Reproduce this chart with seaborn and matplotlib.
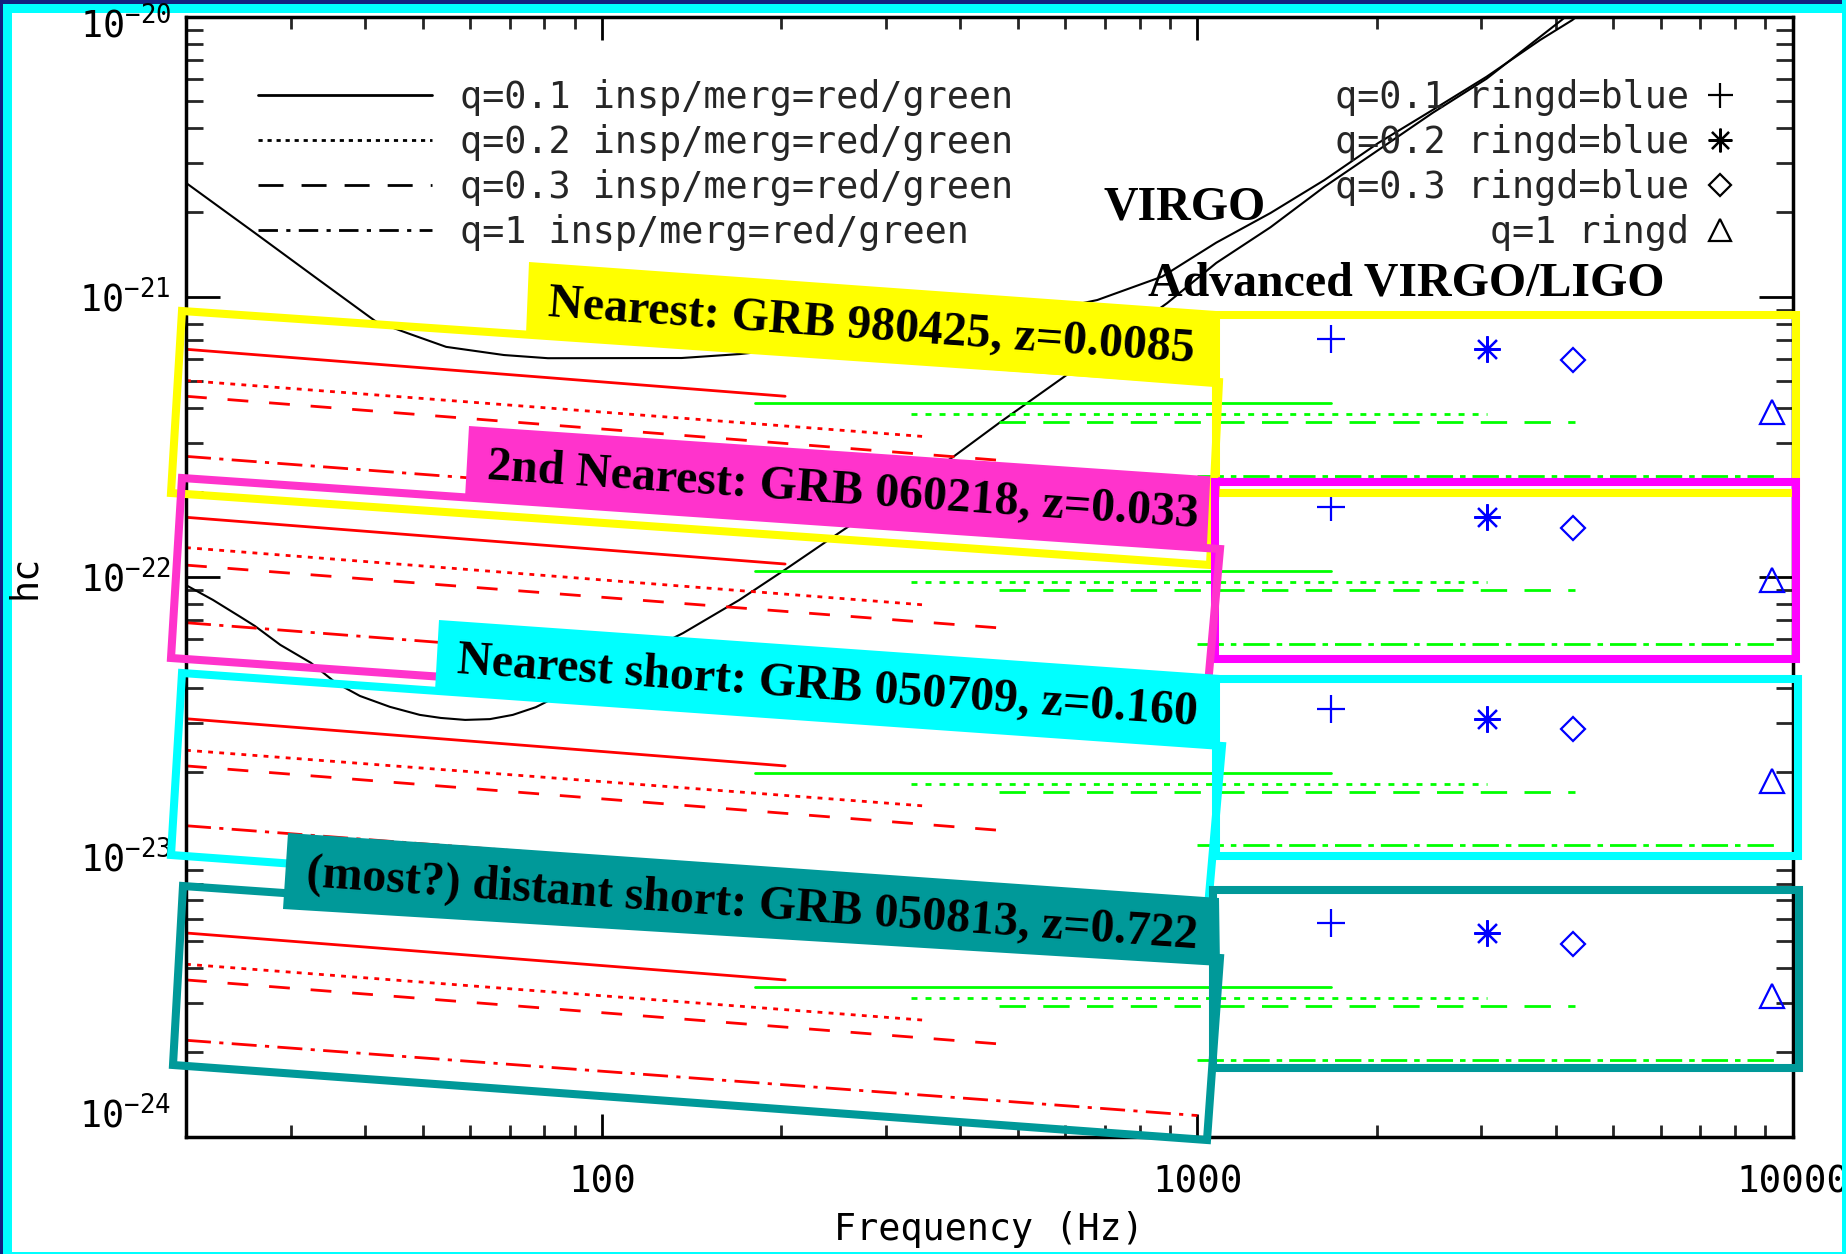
import math
import numpy as np
import matplotlib
matplotlib.use("Agg")
import matplotlib.pyplot as plt
import seaborn as sns
from matplotlib.transforms import Affine2D, blended_transform_factory, offset_copy
from matplotlib.patches import Polygon, Rectangle
from matplotlib.lines import Line2D
from matplotlib.font_manager import FontProperties
from matplotlib.ticker import LogLocator, FuncFormatter, NullFormatter

# ---------------- data ----------------
# detector sensitivity curves (black)
virgo_freq = [20, 26.1, 33.4, 41.7, 47.2, 54.7, 68.4, 81.1, 136, 170.5, 300, 450, 679,
              873, 1076, 1327, 1635, 2014, 2483, 3060, 3767, 4266, 4700]
virgo_hc = [2.55e-21, 1.69e-21, 1.15e-21, 8.15e-22, 7.40e-22, 6.62e-22, 6.19e-22, 6.03e-22,
            6.04e-22, 6.24e-22, 7.1e-22, 8.1e-22, 9.73e-22, 1.18e-21, 1.56e-21, 1.99e-21,
            2.61e-21, 3.54e-21, 4.64e-21, 6.1e-21, 8.26e-21, 9.73e-21, 1.15e-20]
adv_freq = [20, 22.2, 24.7, 26.1, 28.8, 32.4, 35.7, 39.2, 44.0, 49.4, 53.6, 58.9, 64.8,
            70.8, 77.4, 101.6, 136.8, 169.9, 203, 252, 389, 467, 593, 890, 1076, 1327,
            1635, 2014, 2483, 3060, 4092, 4500]
adv_hc = [9.33e-23, 8.26e-23, 7.18e-23, 6.67e-23, 5.71e-23, 4.93e-23, 4.18e-23, 3.75e-23,
          3.43e-23, 3.21e-23, 3.13e-23, 3.08e-23, 3.10e-23, 3.21e-23, 3.42e-23, 4.58e-23,
          6.29e-23, 8.25e-23, 1.06e-22, 1.45e-22, 2.68e-22, 3.57e-22, 5.12e-22, 9.49e-22,
          1.32e-21, 1.77e-21, 2.47e-21, 3.34e-21, 4.53e-21, 6.0e-21, 9.73e-21, 1.15e-20]

mass_ratios = ["q=0.1", "q=0.2", "q=0.3", "q=1"]
grb_labels = ["Nearest: GRB 980425, z=0.0085",
              "2nd Nearest: GRB 060218, z=0.033",
              "Nearest short: GRB 050709, z=0.160",
              "(most?) distant short: GRB 050813, z=0.722"]

# inspiral (red): straight segments from insp_f_start to insp_f_end, one per q
insp_f_start = [20, 20, 20, 20]
insp_f_end = [203, 345, 470, 1000]
insp_start_z0085 = [6.49e-22, 5.02e-22, 4.41e-22, 2.69e-22]
insp_end_z0085 = [4.41e-22, 3.17e-22, 2.60e-22, 1.43e-22]
insp_start_z033 = [1.63e-22, 1.27e-22, 1.10e-22, 6.85e-23]
insp_end_z033 = [1.11e-22, 7.94e-23, 6.55e-23, 3.59e-23]
insp_start_z160 = [3.11e-23, 2.40e-23, 2.11e-23, 1.29e-23]
insp_end_z160 = [2.11e-23, 1.52e-23, 1.24e-23, 6.84e-24]
insp_start_z722 = [5.34e-24, 4.13e-24, 3.63e-24, 2.21e-24]
insp_end_z722 = [3.63e-24, 2.61e-24, 2.14e-24, 1.19e-24]

# merger (green): flat segments
merg_f_start = [181, 330, 464, 1000]
merg_f_end = [1677, 3069, 4303, 9312]
merg_z0085 = [4.16e-22, 3.81e-22, 3.56e-22, 2.29e-22]
merg_z033 = [1.045e-22, 9.57e-23, 8.94e-23, 5.75e-23]
merg_z160 = [1.99e-23, 1.82e-23, 1.70e-23, 1.10e-23]
merg_z722 = [3.42e-24, 3.13e-24, 2.93e-24, 1.88e-24]

# ringdown (blue markers)
ring_freq = [1677, 3069, 4280, 9227]
ring_z0085 = [7.05e-22, 6.48e-22, 5.95e-22, 3.88e-22]
ring_z033 = [1.77e-22, 1.63e-22, 1.49e-22, 9.75e-23]
ring_z160 = [3.37e-23, 3.10e-23, 2.85e-23, 1.86e-23]
ring_z722 = [5.80e-24, 5.33e-24, 4.89e-24, 3.19e-24]

insp_start = [insp_start_z0085, insp_start_z033, insp_start_z160, insp_start_z722]
insp_end = [insp_end_z0085, insp_end_z033, insp_end_z160, insp_end_z722]
merg_hc = [merg_z0085, merg_z033, merg_z160, merg_z722]
ring_hc = [ring_z0085, ring_z033, ring_z160, ring_z722]

y_tick_exponents = [-24, -23, -22, -21, -20]

# ---------------- style ----------------
sns.set_theme(style="white")
plt.rcParams["font.family"] = ["DejaVu Sans Mono", "DejaVu Sans"]
plt.rcParams["mathtext.fontset"] = "custom"
plt.rcParams["mathtext.rm"] = "DejaVu Sans Mono"
plt.rcParams["mathtext.it"] = "DejaVu Sans Mono"
plt.rcParams["mathtext.bf"] = "DejaVu Sans Mono:bold"
plt.rcParams["mathtext.sf"] = "DejaVu Sans Mono"
plt.rcParams["lines.scale_dashes"] = False

W, H = 1846, 1254
fig = plt.figure(figsize=(W / 100, H / 100), dpi=100)
fig.patch.set_facecolor("#13217f")
px = Affine2D().scale(1 / W, -1 / H).translate(0, 1) + fig.transFigure

# screenshot frame
fig.add_artist(Rectangle((3.3, 4.0), W, H, transform=px, facecolor="#00ffff",
                         edgecolor="none", zorder=-10))
fig.add_artist(Rectangle((11.7, 12.7), 1830.0, 1238.8, transform=px,
                         facecolor="white", edgecolor="none", zorder=-9))

ax = fig.add_axes([186 / W, 1 - 1136.7 / H, 1606.6 / W, 1120 / H])
ax.set_facecolor("white")
ax.set_xscale("log")
ax.set_yscale("log")

red_styles = ["-", (0, (3.5, 4.5)), (0, (15, 15)), (0, (18, 6, 3, 6))]
green_styles = ["-", (0, (4.3, 5.8)), (0, (19, 12.5)), (0, (19, 5, 4, 5))]
legend_styles = ["-", (0, (3, 3.5)), (0, (18, 13)), (0, (14, 6, 3, 6))]

sns.lineplot(x=virgo_freq, y=virgo_hc, ax=ax, color="black", lw=1.5,
             estimator=None, sort=False, legend=False)
sns.lineplot(x=adv_freq, y=adv_hc, ax=ax, color="black", lw=1.5,
             estimator=None, sort=False, legend=False)

ring_markers = ["+", (8, 2, 0), "D", "^"]
ring_ms = [20, 19, 12, 17]

for g in range(4):
    for q in range(4):
        sns.lineplot(x=[insp_f_start[q], insp_f_end[q]], y=[insp_start[g][q], insp_end[g][q]],
                     ax=ax, color="#ff0000", lw=2.0, linestyle=red_styles[q],
                     estimator=None, sort=False, legend=False)
        sns.lineplot(x=[merg_f_start[q], merg_f_end[q]], y=[merg_hc[g][q], merg_hc[g][q]],
                     ax=ax, color="#00ff00", lw=2.0, linestyle=green_styles[q],
                     estimator=None, sort=False, legend=False)
        ax.plot([ring_freq[q]], [ring_hc[g][q]], linestyle="none", marker=ring_markers[q],
                ms=ring_ms[q], mec="#0000ff", mfc="none", mew=1.6, color="#0000ff")

ax.set_xlim(20, 10000)
ax.set_ylim(1e-24, 1e-20)

ax.xaxis.set_major_locator(LogLocator(base=10))
ax.xaxis.set_minor_locator(LogLocator(base=10, subs=np.arange(2, 10), numticks=20))
ax.yaxis.set_major_locator(LogLocator(base=10))
ax.yaxis.set_minor_locator(LogLocator(base=10, subs=np.arange(2, 10), numticks=20))
ax.xaxis.set_major_formatter(FuncFormatter(lambda v, p: f"{v:g}"))
ax.xaxis.set_minor_formatter(NullFormatter())


def ylab(v, p):
    e = round(math.log10(v))
    if e in (y_tick_exponents[0], y_tick_exponents[-1]):
        return ""
    return r"$10^{%d}$" % e


ax.yaxis.set_major_formatter(FuncFormatter(ylab))
ax.yaxis.set_minor_formatter(NullFormatter())

ax.tick_params(axis="x", which="major", direction="in", length=16.5, width=2,
               top=True, bottom=True, pad=20, labelsize=27, colors="black")
ax.tick_params(axis="x", which="minor", direction="in", length=8.6, width=2,
               top=True, bottom=True)
ax.tick_params(axis="y", which="major", direction="in", length=24.5, width=2,
               left=True, right=True, pad=11, labelsize=26.5, colors="black")
ax.tick_params(axis="y", which="minor", direction="in", length=12.2, width=2,
               left=True, right=True)
for s in ax.spines.values():
    s.set_linewidth(2.5)
    s.set_color("black")

# end labels of the y axis, shifted inward as in the original
ytrans = blended_transform_factory(ax.transAxes, ax.transData)
ax.text(0, 10.0 ** y_tick_exponents[0], r"$10^{%d}$" % y_tick_exponents[0],
        transform=offset_copy(ytrans, fig=fig, x=-15, y=20, units="dots"),
        ha="right", va="center", fontsize=26.5, color="black")
ax.text(0, 10.0 ** y_tick_exponents[-1], r"$10^{%d}$" % y_tick_exponents[-1],
        transform=offset_copy(ytrans, fig=fig, x=-15, y=-10, units="dots"),
        ha="right", va="center", fontsize=26.5, color="black")

ax.set_xlabel("Frequency (Hz)", fontsize=26.5, color="black")
ax.xaxis.set_label_coords(0.5, -0.066)
ax.set_ylabel("hc", fontsize=26.5, color="black")
ax.yaxis.set_label_coords(-0.089, 0.5)

# legends
prop = FontProperties(family="DejaVu Sans Mono", size=26.5)
h_left = [Line2D([], [], color="black", lw=2, linestyle=s) for s in legend_styles]
lab_left = [f"{q} insp/merg=red/green" for q in mass_ratios]
leg1 = ax.legend(h_left, lab_left, loc="upper left", bbox_to_anchor=(258, 79),
                 bbox_transform=px, frameon=False, borderpad=0, borderaxespad=0,
                 handlelength=4.73, handletextpad=0.76, labelspacing=0.22, prop=prop)
ax.add_artist(leg1)
h_right = [Line2D([], [], color="black", linestyle="none", marker=m, ms=s * 0.9,
                  mfc="none", mec="black", mew=1.6) for m, s in zip(ring_markers, ring_ms)]
lab_right = ["q=0.1 ringd=blue", "q=0.2 ringd=blue", "q=0.3 ringd=blue", "       q=1 ringd"]
ax.legend(h_right, lab_right, loc="upper right", bbox_to_anchor=(1738, 79),
          bbox_transform=px, frameon=False, borderpad=0, borderaxespad=0,
          handlelength=1.0, handletextpad=0.33, labelspacing=0.22, prop=prop,
          markerfirst=False)

serif = dict(family="Liberation Serif", weight="bold", size=34.5, color="black")
ax.text(1103, 219, "VIRGO", transform=px, ha="left", va="baseline", **serif)
ax.text(1148, 296, "Advanced VIRGO/LIGO", transform=px, ha="left", va="baseline", **serif)

# ---------------- GRB annotation boxes (pixel layout) ----------------
label_boxes = [
    [(529, 262), (1216, 311), (1214, 387), (526, 334)],
    [(469, 426), (1220, 477), (1217, 550), (465, 498)],
    [(439, 620), (1220, 675), (1216, 748), (435, 691)],
    [(288, 833), (1219, 898), (1220, 966), (283, 909)],
]
quads = [
    [(182, 311), (1219, 382), (1210, 565), (171, 493)],
    [(182, 478), (1220, 549), (1204, 730), (171, 658)],
    [(182, 673), (1222, 746), (1206, 930), (171, 855)],
    [(183, 886), (1220, 958), (1207, 1140), (173, 1065)],
]
rects = [(1216, 315, 1796, 493), (1215, 482, 1796, 659),
         (1216, 679, 1798, 856), (1213, 890, 1799, 1068)]
fill_cols = ["#ffff00", "#ff33cc", "#00ffff", "#009999"]
quad_cols = ["#ffff00", "#ff33cc", "#00ffff", "#009999"]
rect_cols = ["#ffff00", "#ff00ff", "#00ffff", "#009999"]
label_z = [12, 10, 13, 14]
quad_z = [11, 11, 12, 13]
rect_z = [10, 11, 12, 13]

for i in range(4):
    x0r, y0r, x1r, y1r = rects[i]
    fig.add_artist(Polygon([(x0r, y0r), (x1r, y0r), (x1r, y1r), (x0r, y1r)],
                           closed=True, fill=False, edgecolor=rect_cols[i], lw=5.8,
                           transform=px, zorder=rect_z[i], joinstyle="miter"))
    fig.add_artist(Polygon(quads[i], closed=True, fill=False, edgecolor=quad_cols[i], lw=5.8,
                           transform=px, zorder=quad_z[i], joinstyle="miter"))
    fig.add_artist(Polygon(label_boxes[i], closed=True, facecolor=fill_cols[i],
                           edgecolor="none", transform=px, zorder=label_z[i]))
    (x0, y0), (x1, y1) = label_boxes[i][0], label_boxes[i][1]
    ang = -math.degrees(math.atan2(y1 - y0, x1 - x0))
    cx = sum(p[0] for p in label_boxes[i]) / 4
    cy = sum(p[1] for p in label_boxes[i]) / 4 + 3
    fig.text(cx, cy, grb_labels[i], transform=px, rotation=ang, rotation_mode="anchor",
             ha="center", va="center", zorder=label_z[i] + 0.5, **serif)

# thin cyan edge at right/bottom drawn over everything (screenshot frame)
fig.add_artist(Rectangle((1841.7, 0), 10, H, transform=px, facecolor="#00ffff",
                         edgecolor="none", zorder=50))
fig.add_artist(Rectangle((3.3, 1251.5), W, 5, transform=px, facecolor="#00ffff",
                         edgecolor="none", zorder=50))

fig.savefig("out.png", dpi=100)
